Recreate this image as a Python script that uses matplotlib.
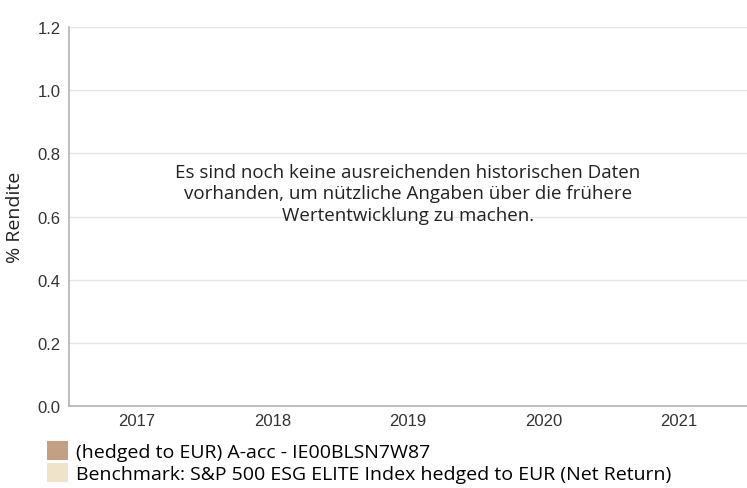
import matplotlib.pyplot as plt
from matplotlib.patches import Patch

# Kategorien (Jahre) und Serien - noch keine Renditedaten vorhanden
jahre = ["2017", "2018", "2019", "2020", "2021"]
serien = [
    "(hedged to EUR) A-acc - IE00BLSN7W87",
    "Benchmark: S&P 500 ESG ELITE Index hedged to EUR (Net Return)",
]
serien_farben = ["#c4a082", "#efe4c9"]
y_ticks = [0.0, 0.2, 0.4, 0.6, 0.8, 1.0, 1.2]
hinweis = ("Es sind noch keine ausreichenden historischen Daten\n"
           "vorhanden, um nützliche Angaben über die frühere\n"
           "Wertentwicklung zu machen.")

fig = plt.figure(figsize=(7.47, 4.89), dpi=100)
ax = fig.add_axes([0.0924, 0.1677, 0.9076, 0.775])

ax.set_xlim(-0.5, len(jahre) - 0.5)
ax.set_ylim(0, 1.2)
ax.set_xticks(range(len(jahre)))
ax.set_xticklabels(jahre, fontsize=12, color="#333333", family="Liberation Sans")
ax.set_yticks(y_ticks)
ax.set_yticklabels([f"{v:.1f}" for v in y_ticks], fontsize=12,
                   color="#333333", family="Liberation Sans")
ax.tick_params(axis="both", length=0, pad=6)
ax.tick_params(axis="x", pad=5)

ax.grid(axis="y", color="#e6e6e6", linewidth=1)
ax.set_axisbelow(True)
for s in ("top", "right"):
    ax.spines[s].set_visible(False)
for s in ("left", "bottom"):
    ax.spines[s].set_color("#b3b3b3")
    ax.spines[s].set_linewidth(1.2)

ax.set_ylabel("% Rendite", fontsize=14, family="Open Sans", color="#222222",
              labelpad=10)

ax.text(0.5, 0.562, hinweis, transform=ax.transAxes, ha="center", va="center",
        fontsize=13.5, family="Open Sans", color="#222222", linespacing=1.25)

handles = [Patch(facecolor=c, edgecolor="none") for c in serien_farben]
fig.legend(handles, serien, loc="upper left", bbox_to_anchor=(0.063, 0.096),
           frameon=False, handlelength=1.1, handleheight=1.1,
           handletextpad=0.4, labelspacing=0.1, borderaxespad=0,
           borderpad=0, prop={"family": "Open Sans", "size": 14})

fig.savefig("out.png", dpi=100)
